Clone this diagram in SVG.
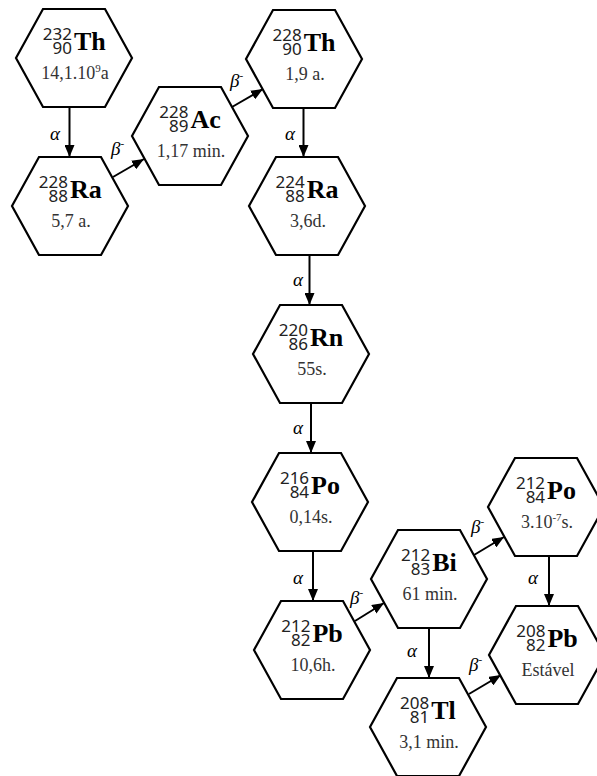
<svg xmlns="http://www.w3.org/2000/svg" xmlns:xlink="http://www.w3.org/1999/xlink" width="597" height="776" viewBox="0 0 597 776">
<style>
.hex{fill:#fff;stroke:#000;stroke-width:2.2;stroke-linejoin:miter}
.num{font-family:"Noto Sans","DejaVu Sans",sans-serif;font-size:17px;fill:#222;text-anchor:end}
.sym{font-family:"Liberation Serif","Times New Roman",serif;font-size:26px;font-weight:bold;fill:#000}
.hl{font-family:"Liberation Serif","Times New Roman",serif;font-size:18px;fill:#333;text-anchor:middle}
.lbl{font-family:"Liberation Serif","Times New Roman",serif;font-size:19px;font-style:italic;fill:#000}
.ar{stroke:#000;stroke-width:2;fill:none;marker-end:url(#ah)}
</style>
<defs>
<polygon id="hexshape" points="-31,-49 31,-49 58,0 31,49 -31,49 -58,0"/>
<marker id="ah" markerUnits="userSpaceOnUse" markerWidth="13" markerHeight="10" refX="12" refY="5" orient="auto">
<path d="M0,0 L12,5 L0,10 Z" fill="#000"/>
</marker>
</defs>
<rect width="597" height="776" fill="#fff"/>
<g id="connectors">
<line class="ar" x1="69.5" y1="107" x2="69.5" y2="157"/>
<line class="ar" x1="113" y1="177" x2="144" y2="159"/>
<line class="ar" x1="232" y1="107" x2="263" y2="89"/>
<line class="ar" x1="303.5" y1="108" x2="303.5" y2="157"/>
<line class="ar" x1="309.5" y1="255" x2="309.5" y2="305"/>
<line class="ar" x1="311" y1="403" x2="311" y2="453"/>
<line class="ar" x1="313" y1="551" x2="313" y2="601"/>
<line class="ar" x1="355" y1="621" x2="384" y2="603"/>
<line class="ar" x1="474" y1="555" x2="504" y2="537"/>
<line class="ar" x1="429" y1="628" x2="429" y2="678"/>
<line class="ar" x1="549" y1="556" x2="549" y2="606"/>
<line class="ar" x1="469" y1="694" x2="501" y2="675"/>
<text class="lbl" x="50" y="140">α</text>
<text class="lbl" x="285" y="140">α</text>
<text class="lbl" x="293" y="286">α</text>
<text class="lbl" x="293" y="434">α</text>
<text class="lbl" x="293" y="584">α</text>
<text class="lbl" x="407" y="657">α</text>
<text class="lbl" x="528" y="584">α</text>
<text class="lbl" x="111" y="155">β<tspan font-size="11" dy="-8">-</tspan></text>
<text class="lbl" x="230" y="87">β<tspan font-size="11" dy="-8">-</tspan></text>
<text class="lbl" x="350" y="604">β<tspan font-size="11" dy="-8">-</tspan></text>
<text class="lbl" x="471" y="533">β<tspan font-size="11" dy="-8">-</tspan></text>
<text class="lbl" x="469" y="671">β<tspan font-size="11" dy="-8">-</tspan></text>
</g>
<g id="th232">
<use xlink:href="#hexshape" class="hex" x="74" y="58"/>
<text class="num"><tspan x="72" y="40">232</tspan><tspan x="72" y="54">90</tspan></text>
<text class="sym" x="74" y="50">Th</text>
<text class="hl" x="75" y="79">14,1.10<tspan font-size="11" dy="-7">9</tspan><tspan dy="7">a</tspan></text>
</g>
<g id="ra228">
<use xlink:href="#hexshape" class="hex" x="70" y="206"/>
<text class="num"><tspan x="68" y="188">228</tspan><tspan x="68" y="202">88</tspan></text>
<text class="sym" x="70" y="198">Ra</text>
<text class="hl" x="71" y="227">5,7 a.</text>
</g>
<g id="ac228">
<use xlink:href="#hexshape" class="hex" x="190" y="136"/>
<text class="num"><tspan x="188.4" y="118">228</tspan><tspan x="188.4" y="132">89</tspan></text>
<text class="sym" x="190.4" y="128">Ac</text>
<text class="hl" x="191" y="157">1,17 min.</text>
</g>
<g id="th228">
<use xlink:href="#hexshape" class="hex" x="304" y="59"/>
<text class="num"><tspan x="301.7" y="41">228</tspan><tspan x="301.7" y="55">90</tspan></text>
<text class="sym" x="303.7" y="51">Th</text>
<text class="hl" x="305" y="80">1,9 a.</text>
</g>
<g id="ra224">
<use xlink:href="#hexshape" class="hex" x="307" y="206"/>
<text class="num"><tspan x="304.7" y="188">224</tspan><tspan x="304.7" y="202">88</tspan></text>
<text class="sym" x="306.7" y="198">Ra</text>
<text class="hl" x="308" y="227">3,6d.</text>
</g>
<g id="rn220">
<use xlink:href="#hexshape" class="hex" x="311" y="354"/>
<text class="num"><tspan x="308" y="336">220</tspan><tspan x="308" y="350">86</tspan></text>
<text class="sym" x="310" y="346">Rn</text>
<text class="hl" x="312" y="375">55s.</text>
</g>
<g id="po216">
<use xlink:href="#hexshape" class="hex" x="310" y="502"/>
<text class="num"><tspan x="309.1" y="484">216</tspan><tspan x="309.1" y="498">84</tspan></text>
<text class="sym" x="311.1" y="494">Po</text>
<text class="hl" x="311" y="523">0,14s.</text>
</g>
<g id="pb212">
<use xlink:href="#hexshape" class="hex" x="312" y="650"/>
<text class="num"><tspan x="310.4" y="632">212</tspan><tspan x="310.4" y="646">82</tspan></text>
<text class="sym" x="312.4" y="642">Pb</text>
<text class="hl" x="313" y="671">10,6h.</text>
</g>
<g id="bi212">
<use xlink:href="#hexshape" class="hex" x="429" y="579"/>
<text class="num"><tspan x="430.2" y="561">212</tspan><tspan x="430.2" y="575">83</tspan></text>
<text class="sym" x="432.2" y="571">Bi</text>
<text class="hl" x="430" y="600">61 min.</text>
</g>
<g id="po212">
<use xlink:href="#hexshape" class="hex" x="546" y="507"/>
<text class="num"><tspan x="545.1" y="489">212</tspan><tspan x="545.1" y="503">84</tspan></text>
<text class="sym" x="547.1" y="499">Po</text>
<text class="hl" x="547" y="528">3.10<tspan font-size="11" dy="-7">-7</tspan><tspan dy="7">s.</tspan></text>
</g>
<g id="pb208">
<use xlink:href="#hexshape" class="hex" x="547" y="655"/>
<text class="num"><tspan x="545.4" y="637">208</tspan><tspan x="545.4" y="651">82</tspan></text>
<text class="sym" x="547.4" y="647">Pb</text>
<text class="hl" x="548" y="676">Estável</text>
</g>
<g id="tl208">
<use xlink:href="#hexshape" class="hex" x="428" y="727"/>
<text class="num"><tspan x="429.2" y="709">208</tspan><tspan x="429.2" y="723">81</tspan></text>
<text class="sym" x="431.2" y="719">Tl</text>
<text class="hl" x="429" y="748">3,1 min.</text>
</g>
</svg>
